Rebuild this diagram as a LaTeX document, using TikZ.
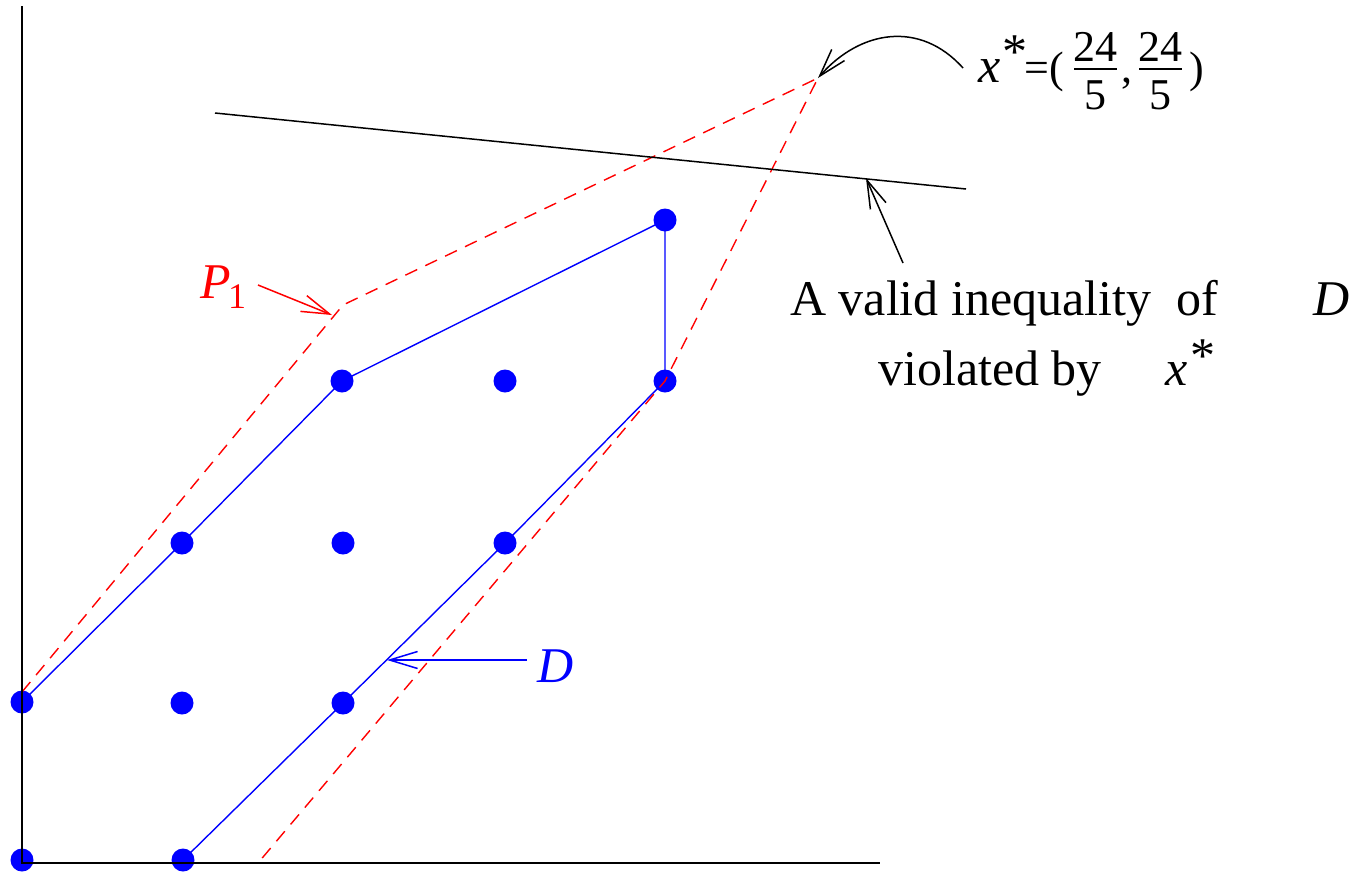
\documentclass[tikz,border=0pt]{standalone}
\usepackage{fontspec}
\setmainfont{Liberation Serif}
\usetikzlibrary{arrows.meta}
\begin{document}
\begin{tikzpicture}[x=1pt,y=-1pt,
  dot/.style={circle,fill=blue,inner sep=0pt,minimum size=23pt},
  axis/.style={black,line width=1.5pt},
  dline/.style={blue,line width=1.4pt},
  pline/.style={red,line width=1.4pt,dash pattern=on 13pt off 9pt},
  barb/.style={-{Straight Barb[length=28pt,width=17pt,line width=1.5pt]},line width=1.5pt},
  big/.style={inner sep=0pt,anchor=base west,font=\fontsize{50}{60}\selectfont},
  mid/.style={inner sep=0pt,anchor=base,font=\fontsize{44}{52}\selectfont},
  small/.style={inner sep=0pt,anchor=base west,font=\fontsize{36}{44}\selectfont}]
\useasboundingbox (0,0) rectangle (1357,873);

% lattice points
\node[dot] (d00) at (22,860) {};
\node[dot] (d10) at (183,860) {};
\node[dot] (d01) at (22,702) {};
\node[dot] (d11) at (182,703) {};
\node[dot] (d21) at (343,703) {};
\node[dot] (d12) at (182,543) {};
\node[dot] (d22) at (343,543) {};
\node[dot] (d32) at (505,543) {};
\node[dot] (d23) at (342,381) {};
\node[dot] (d33) at (505,381) {};
\node[dot] (d43) at (665,381) {};
\node[dot] (d44) at (665,220) {};

% D boundary
\draw[dline] (d01.center) -- (d12.center) -- (d23.center) -- (d44.center)
  -- (d43.center) -- (d32.center) -- (d21.center) -- (d10.center);

% P1 boundary
\coordinate (p1) at (22,692);
\coordinate (p2) at (343,305);
\coordinate (p3) at (818,78);
\coordinate (p4) at (665,381);
\coordinate (p5) at (258,863);
\draw[pline] (p1) -- (p2) -- (p3) -- (p4) -- (p5);

% axes
\coordinate (ytop) at (22,6);
\coordinate (orig) at (22,863);
\coordinate (xend) at (880,863);
\draw[axis] (ytop) -- (orig) -- (xend);

% valid inequality
\coordinate (v1) at (215,113);
\coordinate (v2) at (966,189);
\draw[axis] (v1) -- (v2);

% x* label
\node[big] (xs) at (978,82) {\textit{x}};
\node[big] (xsstar) at (1002,68) {*};
\node[mid] (eq) at (1044,82) {=(};
\node[mid] (n1) at (1095,61) {24};
\node[mid] (dn1) at (1095,109) {5};
\coordinate (b1a) at (1074,69);
\coordinate (b1b) at (1117,69);
\draw[line width=1.5pt] (b1a) -- (b1b);
\node[mid] (cm) at (1127,82) {,};
\node[mid] (n2) at (1160,61) {24};
\node[mid] (dn2) at (1160,109) {5};
\coordinate (b2a) at (1139,69);
\coordinate (b2b) at (1182,69);
\draw[line width=1.5pt] (b2a) -- (b2b);
\node[mid] (rp) at (1197,82) {)};

\coordinate (xtail) at (963,68);
\draw[barb] (xtail) .. controls (920,20) and (860,30) .. (p3);

% inequality label
\node[big] (t1) at (790,315) {A valid inequality\ \ of};
\node[big] (t1d) at (1313,315) {\textit{D}};
\node[big] (t2) at (878,385) {violated by};
\node[big] (t2x) at (1165,385) {\textit{x}};
\node[big] (t2s) at (1190,372) {*};
\coordinate (vt) at (866,178);
\coordinate (vtail) at (903,263);
\draw[barb] (vtail) -- (vt);

% P1 label
\node[big,text=red] (P) at (200,298) {\textit{P}};
\node[small,text=red] (Psub) at (228,308) {1};
\coordinate (ptail) at (258,285);
\coordinate (ptip) at (332,315);
\draw[barb,red] (ptail) -- (ptip);

% D label
\node[big,text=blue] (Dl) at (537,682) {\textit{D}};
\coordinate (dtail) at (527,660);
\coordinate (dtip) at (387,660);
\draw[barb,blue] (dtail) -- (dtip);
\end{tikzpicture}
\end{document}
